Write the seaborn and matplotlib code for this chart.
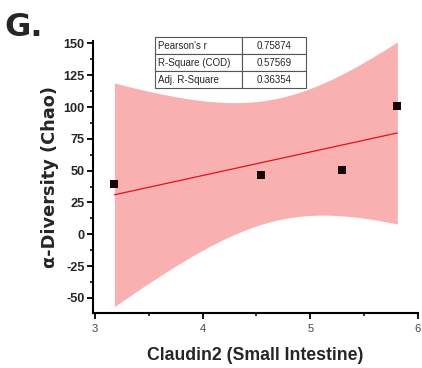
import numpy as np
import pandas as pd
import matplotlib
matplotlib.use("Agg")
import matplotlib.pyplot as plt
import seaborn as sns
from matplotlib.ticker import MultipleLocator

# values
claudin2 = [3.18, 4.54, 5.30, 5.81]
chao = [39.5, 46.5, 50.5, 100.5]

stat_names = ["Pearson's r", "R-Square (COD)", "Adj. R-Square"]
stat_values = ["0.75874", "0.57569", "0.36354"]

x_ticks = [3, 4, 5, 6]
y_ticks = [-50, -25, 0, 25, 50, 75, 100, 125, 150]

T_CRIT = 4.303  # t(0.975, df=2)

sns.set_style("ticks")
plt.rcParams["font.family"] = ["Liberation Sans", "DejaVu Sans"]
plt.rcParams["axes.unicode_minus"] = False

df = pd.DataFrame({"x": claudin2, "y": chao})

# linear fit + 95% confidence band
x = np.array(claudin2)
y = np.array(chao)
slope, intercept = np.polyfit(x, y, 1)
n = len(x)
resid = y - (slope * x + intercept)
s = np.sqrt(np.sum(resid ** 2) / (n - 2))
sxx = np.sum((x - x.mean()) ** 2)
grid = np.linspace(x.min(), x.max(), 200)
fit = slope * grid + intercept
half = T_CRIT * s * np.sqrt(1 / n + (grid - x.mean()) ** 2 / sxx)
fit_df = pd.DataFrame({"x": grid, "y": fit})

fig = plt.figure(figsize=(4.22, 3.68), dpi=100)
ax = fig.add_axes([0.220, 0.149, 0.770, 0.740])

ax.fill_between(grid, fit - half, fit + half, color="#f9b0b0", linewidth=0, zorder=1)
sns.lineplot(data=fit_df, x="x", y="y", ax=ax, color="#e3101a", linewidth=0.9, zorder=2)
sns.scatterplot(data=df, x="x", y="y", ax=ax, marker="s", s=38, color="#1a0505",
                edgecolor="#1a0505", linewidth=0, zorder=3)

ax.set_xlim(2.98, 6.0)
ax.set_ylim(-62, 152)
ax.set_xticks(x_ticks)
ax.set_yticks(y_ticks)
ax.xaxis.set_minor_locator(MultipleLocator(0.5))
ax.yaxis.set_minor_locator(MultipleLocator(12.5))

sns.despine(ax=ax)
for side in ["left", "bottom"]:
    ax.spines[side].set_linewidth(1.5)
    ax.spines[side].set_color("black")

ax.tick_params(axis="both", which="major", direction="out", length=4, width=1.3, color="black")
ax.tick_params(axis="both", which="minor", direction="out", length=2.5, width=1.1, color="black")
ax.tick_params(axis="y", labelsize=9.2, pad=2)
ax.tick_params(axis="x", labelsize=8, labelcolor="#444444", pad=4)
for lab in ax.get_yticklabels():
    lab.set_fontweight("bold")

ax.set_xlabel("Claudin2 (Small Intestine)", fontsize=12.7, fontweight="bold", labelpad=9)
ax.set_ylabel("\u03b1-Diversity (Chao)", fontsize=12.8, fontweight="bold", labelpad=3,
              family=["DejaVu Sans"])

cells = [[a, b] for a, b in zip(stat_names, stat_values)]
tbl = ax.table(cellText=cells, bbox=[0.191, 0.826, 0.464, 0.1875],
               colWidths=[0.58, 0.42], cellLoc="left", zorder=5)
tbl.auto_set_font_size(False)
tbl.set_fontsize(7)
for (r, c), cell in tbl.get_celld().items():
    cell.set_edgecolor("#555555")
    cell.set_linewidth(0.8)
    cell.set_facecolor("white")
    if c == 1:
        cell.get_text().set_horizontalalignment("center")
    else:
        cell.PAD = 0.03

fig.text(0.010, 0.902, "G.", fontsize=23, fontweight="bold", ha="left", va="baseline",
         family=["DejaVu Sans"])

fig.savefig("out.png", dpi=100)
plt.close(fig)
